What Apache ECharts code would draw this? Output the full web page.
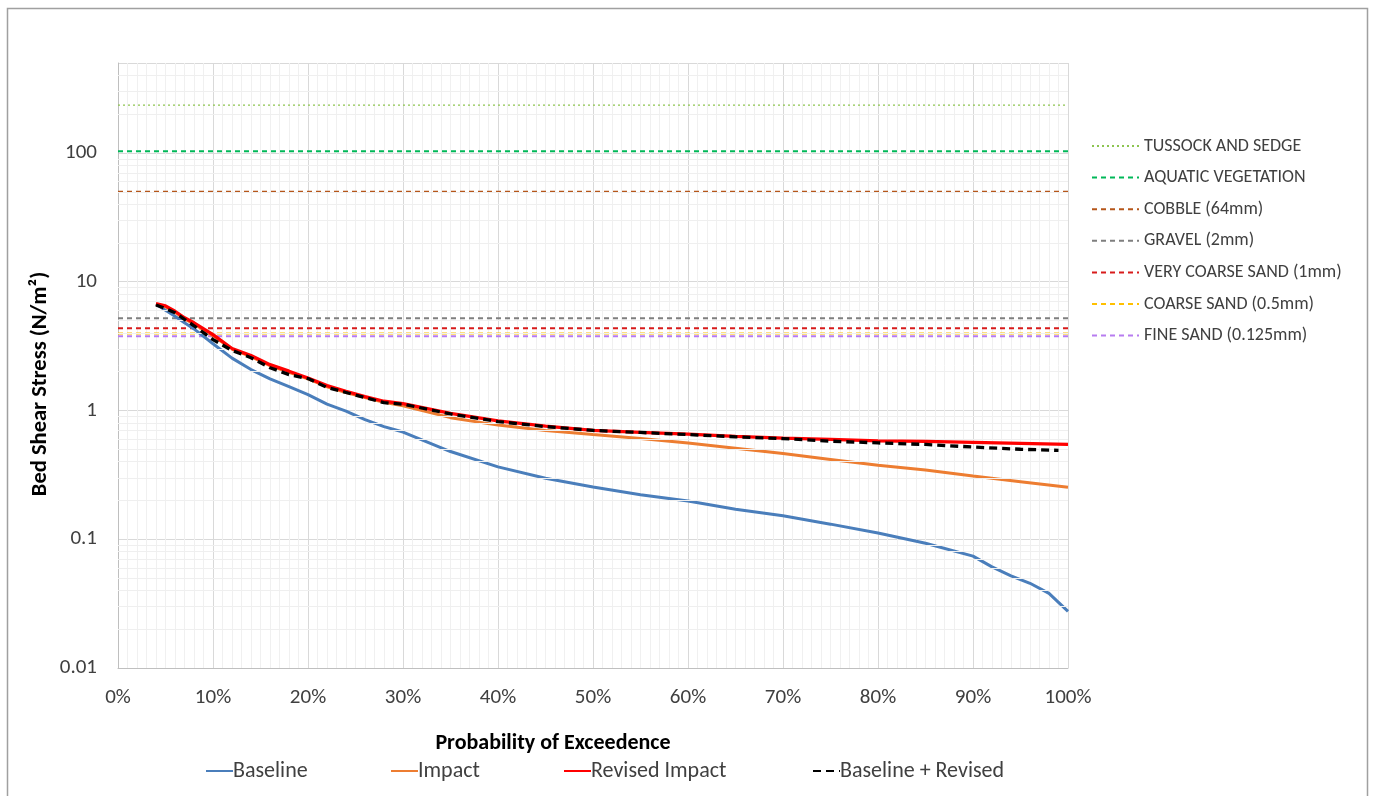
<!DOCTYPE html>
<html>
<head>
<meta charset="utf-8">
<script src="https://cdn.jsdelivr.net/npm/echarts@6/dist/echarts.min.js"></script>
<style>
html,body{margin:0;padding:0;background:#fff;}
#chart{width:1373px;height:796px;}
</style>
</head>
<body>
<div id="chart"></div>
<script>
// ---- Data ----
const probBase = [4,5,6,7,8,10,12,14,16,18,20,22,24,26,28,30,35,40,45,50,55,60,65,70,75,80,85,90,92,94,96,98,100];
const baseline = [6.7,6.0,5.4,4.8,4.3,3.3,2.55,2.08,1.76,1.53,1.33,1.12,0.99,0.85,0.75,0.68,0.48,0.365,0.298,0.255,0.222,0.198,0.171,0.152,0.131,0.112,0.093,0.074,0.061,0.052,0.0455,0.038,0.0275];

const probMain = [4,5,6,7,8,10,12,14,16,18,20,22,24,26,28,30,35,40,45,50,55,60,65,70,75,80,85,90,95,100];
const impact = [6.7,6.4,5.8,5.15,4.7,3.8,3.0,2.62,2.23,1.98,1.76,1.53,1.38,1.26,1.16,1.09,0.88,0.77,0.70,0.65,0.605,0.56,0.51,0.464,0.417,0.375,0.345,0.31,0.28,0.253];
const revisedImpact = [6.75,6.5,5.9,5.25,4.8,3.88,3.03,2.67,2.27,2.02,1.79,1.56,1.41,1.28,1.18,1.13,0.95,0.83,0.755,0.70,0.675,0.655,0.63,0.61,0.596,0.58,0.575,0.565,0.555,0.545];

const probCombined = [4,5,6,7,8,10,12,14,16,18,20,22,24,26,28,30,35,40,45,50,55,60,65,70,75,80,85,90,95,99];
const baselineRevised = [6.6,6.2,5.75,5.1,4.55,3.55,2.93,2.57,2.15,1.90,1.77,1.51,1.38,1.26,1.15,1.12,0.94,0.82,0.75,0.70,0.675,0.65,0.625,0.605,0.578,0.56,0.545,0.52,0.50,0.49];

const thresholdNames = ['TUSSOCK AND SEDGE','AQUATIC VEGETATION','COBBLE (64mm)','GRAVEL (2mm)','VERY COARSE SAND (1mm)','COARSE SAND (0.5mm)','FINE SAND (0.125mm)'];
const thresholdValues = [235, 103, 50, 5.2, 4.35, 3.97, 3.77];
const thresholdColors = ['#8DC450','#00B858','#B5561A','#7F7F7F','#D81B1B','#FFC000','#B77CF0'];

const xTicks = [0,10,20,30,40,50,60,70,80,90,100];
const yMin = 0.01, yMax = 500;

const mainNames = ['Baseline','Impact','Revised Impact','Baseline + Revised'];
const mainColors = ['#4A7EBB','#ED7D31','#FF0000','#000000'];
const xTitle = 'Probability of Exceedence';
const yTitle = 'Bed Shear Stress (N/m²)';

// ---- Build ----
const FONT = 'Carlito, Lato, "Liberation Sans", sans-serif';
const zip = (xs, ys) => xs.map((x, i) => [x, ys[i]]);

// minor log gridlines 2..9 per decade
const minorY = [];
for (let d = yMin; d < yMax; d *= 10) {
  for (let k = 2; k <= 9; k++) {
    const v = +(k * d).toPrecision(3);
    if (v < yMax) minorY.push({ yAxis: v });
  }
}

const series = [];
series.push({
  name: '_grid', type: 'line', data: [], silent: true, z: 0,
  markLine: {
    silent: true, symbol: ['none','none'], animation: false,
    label: { show: false },
    lineStyle: { color: '#EFEFEF', width: 1, type: 'solid' },
    data: minorY
  }
});
thresholdNames.forEach((n, i) => {
  series.push({
    name: n, type: 'line', symbol: 'none', z: 2,
    data: [[xTicks[0], thresholdValues[i]], [xTicks[xTicks.length-1], thresholdValues[i]]],
    lineStyle: { color: thresholdColors[i], width: i === 0 ? 1.3 : 2, type: i === 0 ? [2,3] : [5,4] },
    itemStyle: { color: thresholdColors[i] },
    animation: false
  });
});
series.push({ name: mainNames[0], type: 'line', symbol: 'none', z: 3, data: zip(probBase, baseline),
  lineStyle: { color: mainColors[0], width: 3 }, itemStyle: { color: mainColors[0] }, animation: false });
series.push({ name: mainNames[1], type: 'line', symbol: 'none', z: 4, data: zip(probMain, impact),
  lineStyle: { color: mainColors[1], width: 3 }, itemStyle: { color: mainColors[1] }, animation: false });
series.push({ name: mainNames[2], type: 'line', symbol: 'none', z: 5, data: zip(probMain, revisedImpact),
  lineStyle: { color: mainColors[2], width: 3.3 }, itemStyle: { color: mainColors[2] }, animation: false });
series.push({ name: mainNames[3], type: 'line', symbol: 'none', z: 6, data: zip(probCombined, baselineRevised),
  lineStyle: { color: mainColors[3], width: 3.3, type: [8,5] }, itemStyle: { color: mainColors[3] }, animation: false });

const bottomLegendLeft = [205, 390, 563, 812];
const legends = [{
  data: thresholdNames, orient: 'vertical', left: 1091, top: 137, padding: 0,
  itemWidth: 47, itemHeight: 14, itemGap: 13.6,
  itemStyle: { opacity: 0 },
  textStyle: { fontSize: 18, lineHeight: 18, color: '#404040', fontFamily: FONT },
  selectedMode: false
}];
mainNames.forEach((n, i) => {
  legends.push({
    data: [n], orient: 'horizontal', left: bottomLegendLeft[i], top: 760, padding: 0,
    itemWidth: 27, itemHeight: 14, itemGap: 0,
    itemStyle: { opacity: 0 },
    textStyle: { fontSize: 22, color: '#404040', fontFamily: FONT, padding: [0,0,0,-5] },
    selectedMode: false
  });
});

const option = {
  animation: false,
  backgroundColor: '#ffffff',
  textStyle: { fontFamily: FONT },
  grid: { left: 118, top: 63, right: 305, bottom: 128, containLabel: false },
  xAxis: {
    type: 'value', min: xTicks[0], max: xTicks[xTicks.length-1], interval: 10,
    axisLine: { show: true, lineStyle: { color: '#BFBFBF', width: 1 } },
    axisTick: { show: false },
    axisLabel: { formatter: v => v + '%', fontSize: 21, color: '#404040', margin: 19, fontFamily: FONT },
    splitLine: { show: true, lineStyle: { color: '#D9D9D9', width: 1 } },
    minorTick: { show: false, splitNumber: 10 },
    minorSplitLine: { show: true, lineStyle: { color: '#F0F0F0', width: 1 } }
  },
  yAxis: {
    type: 'log', logBase: 10, min: yMin, max: yMax,
    axisLine: { show: true, lineStyle: { color: '#BFBFBF', width: 1 } },
    axisTick: { show: false },
    axisLabel: { formatter: v => String(+(+v).toPrecision(3)), fontSize: 21, color: '#404040', margin: 21,
      showMaxLabel: false, fontFamily: FONT },
    splitLine: { show: true, lineStyle: { color: '#D9D9D9', width: 1 } }
  },
  legend: legends,
  graphic: [
    { type: 'rect', silent: true, z: -1,
      shape: { x: 7.5, y: 8.5, width: 1360, height: 800 },
      style: { fill: 'none', stroke: '#A0A0A0', lineWidth: 1.5 } },
    { type: 'text', x: 553, y: 743, silent: true,
      style: { text: xTitle, font: 'bold 22px ' + FONT, fill: '#000', textAlign: 'center', textVerticalAlign: 'middle' } },
    { type: 'text', x: 40, y: 384, rotation: Math.PI / 2, silent: true,
      style: { text: yTitle, font: 'bold 22.5px ' + FONT, fill: '#000', textAlign: 'center', textVerticalAlign: 'middle' } }
  ],
  series: series
};

const chart = echarts.init(document.getElementById('chart'), null, { renderer: 'canvas' });
chart.setOption(option);
</script>
</body>
</html>
